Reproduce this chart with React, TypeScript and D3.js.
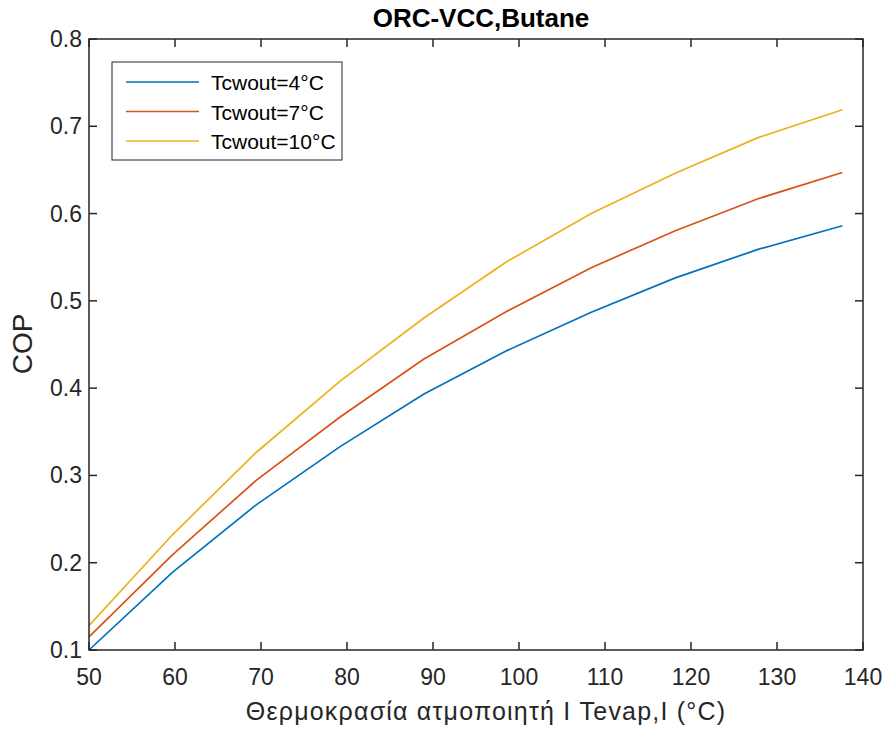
import React from "react";
import * as d3 from "d3";

const xValues = [50, 59.7, 69.4, 79.2, 88.9, 98.6, 108.4, 118.1, 127.8, 137.6];
const seriesNames = ["Tcwout=4°C", "Tcwout=7°C", "Tcwout=10°C"];
const series4 = [0.1, 0.189, 0.266, 0.333, 0.393, 0.443, 0.487, 0.526, 0.559, 0.586];
const series7 = [0.115, 0.209, 0.294, 0.367, 0.433, 0.488, 0.538, 0.58, 0.617, 0.647];
const series10 = [0.128, 0.232, 0.326, 0.408, 0.48, 0.545, 0.6, 0.646, 0.687, 0.719];
const colors = ["#0072BD", "#D95319", "#EDB120"];
const xTicks = [50, 60, 70, 80, 90, 100, 110, 120, 130, 140];
const yTicks = [0.1, 0.2, 0.3, 0.4, 0.5, 0.6, 0.7, 0.8];

const W = 890, H = 731;
const L = 89, R = 863, T = 39, B = 650;
const AX = "#262626";
const FONT = "Liberation Sans, Arial, Helvetica, sans-serif";

export default function App() {
  const x = d3.scaleLinear().domain([50, 140]).range([L, R]);
  const y = d3.scaleLinear().domain([0.1, 0.8]).range([B, T]);
  const line = d3.line<number>().x((_, i) => x(xValues[i])).y((d) => y(d));
  const all = [series4, series7, series10];
  const tl = 8;
  return (
    <svg width={W} height={H} style={{ position: "absolute", left: 0, top: 0, background: "#fff" }} fontFamily={FONT}>
      <rect x={0} y={0} width={W} height={H} fill="#fff" />
      {all.map((s, i) => (
        <path key={i} d={line(s) || ""} fill="none" stroke={colors[i]} strokeWidth={1.7} />
      ))}
      <rect x={L} y={T} width={R - L} height={B - T} fill="none" stroke={AX} strokeWidth={1.5} />
      {xTicks.map((t) => (
        <g key={"x" + t}>
          <line x1={x(t)} x2={x(t)} y1={B} y2={B - tl} stroke={AX} strokeWidth={1.5} />
          <line x1={x(t)} x2={x(t)} y1={T} y2={T + tl} stroke={AX} strokeWidth={1.5} />
          <text x={x(t)} y={B + 35} textAnchor="middle" fontSize={23} fill={AX}>{t}</text>
        </g>
      ))}
      {yTicks.map((t) => (
        <g key={"y" + t}>
          <line x1={L} x2={L + tl} y1={y(t)} y2={y(t)} stroke={AX} strokeWidth={1.5} />
          <line x1={R} x2={R - tl} y1={y(t)} y2={y(t)} stroke={AX} strokeWidth={1.5} />
          <text x={L - 7} y={y(t) + 8} textAnchor="end" fontSize={23} fill={AX}>{t.toFixed(1)}</text>
        </g>
      ))}
      <text x={481} y={27} textAnchor="middle" fontSize={26} fontWeight="bold" fill="#000">ORC-VCC,Butane</text>
      <text x={486} y={720} textAnchor="middle" fontSize={25} letterSpacing={1.2} fill={AX}>Θερμοκρασία ατμοποιητή Ι Tevap,I (°C)</text>
      <text transform={`translate(32, 344) rotate(-90)`} textAnchor="middle" fontSize={28} fill={AX}>COP</text>
      <rect x={112} y={62} width={230} height={98} fill="#fff" stroke={AX} strokeWidth={1} />
      {seriesNames.map((n, i) => (
        <g key={n}>
          <line x1={126} x2={199} y1={82 + i * 29.5} y2={82 + i * 29.5} stroke={colors[i]} strokeWidth={1.7} />
          <text x={211} y={82 + i * 29.5 + 8} fontSize={21} fill="#000">{n}</text>
        </g>
      ))}
    </svg>
  );
}
